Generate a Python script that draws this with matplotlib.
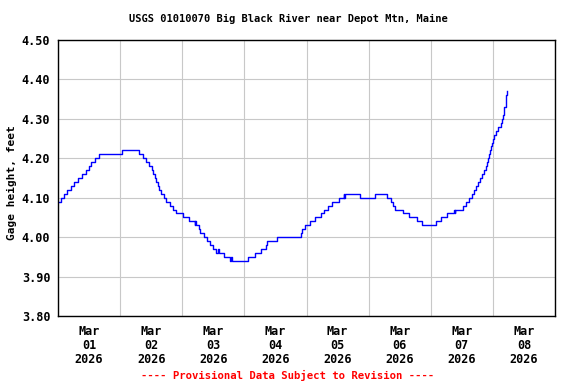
import pandas as pd
import matplotlib
matplotlib.use("Agg")
import matplotlib.pyplot as plt

# gage readings: hours after 2026-03-01 00:00 when the value changed, and the new value (ft)
hours = [0.0, 1.16, 2.44, 3.37, 4.92, 6.31, 7.86, 9.41, 10.72, 11.88, 12.89, 14.44,
         15.87, 24.89, 31.47, 33.02, 34.06, 35.23, 36.27, 36.89, 37.43, 37.94, 38.44,
         39.10, 39.87, 40.76, 41.81, 43.08, 44.40, 45.68, 48.12, 50.71, 52.84, 53.03,
         53.23, 54.31, 54.97, 56.25, 57.56, 58.84, 59.73, 61.16, 61.74, 62.05, 64.26,
         66.58, 66.97, 67.24, 73.28, 76.26, 78.47, 80.40, 80.90, 84.50, 93.79, 94.34,
         95.61, 97.16, 99.21, 101.42, 102.70, 104.40, 105.95, 108.50, 110.44, 110.59,
         110.83, 116.63, 122.44, 127.24, 128.52, 129.29, 130.26, 133.35, 135.48, 138.85,
         140.63, 145.94, 148.14, 150.19, 153.02, 153.21, 153.41, 156.51, 157.55, 158.83,
         159.87, 160.65, 161.42, 162.19, 162.97, 163.74, 164.52, 165.29, 165.87, 166.26,
         166.65, 167.03, 167.42, 167.81, 168.20, 168.58, 169.16, 170.13, 171.10, 171.37,
         172.07, 172.26, 172.45, 172.92, 173.03, 173.15, 173.27, 173.5]
gage = [4.09, 4.10, 4.11, 4.12, 4.13, 4.14, 4.15, 4.16, 4.17, 4.18, 4.19, 4.20,
        4.21, 4.22, 4.21, 4.20, 4.19, 4.18, 4.17, 4.16, 4.15, 4.14, 4.13,
        4.12, 4.11, 4.10, 4.09, 4.08, 4.07, 4.06, 4.05, 4.04, 4.03, 4.04,
        4.03, 4.02, 4.01, 4.00, 3.99, 3.98, 3.97, 3.96, 3.97, 3.96, 3.95,
        3.94, 3.95, 3.94, 3.95, 3.96, 3.97, 3.98, 3.99, 4.00, 4.01, 4.02,
        4.03, 4.04, 4.05, 4.06, 4.07, 4.08, 4.09, 4.10, 4.11, 4.10,
        4.11, 4.10, 4.11, 4.10, 4.09, 4.08, 4.07, 4.06, 4.05, 4.04,
        4.03, 4.04, 4.05, 4.06, 4.07, 4.06, 4.07, 4.08, 4.09, 4.10,
        4.11, 4.12, 4.13, 4.14, 4.15, 4.16, 4.17, 4.18, 4.19, 4.20,
        4.21, 4.22, 4.23, 4.24, 4.25, 4.26, 4.27, 4.28, 4.29, 4.30,
        4.31, 4.32, 4.33, 4.34, 4.35, 4.36, 4.37, 4.37]

y_ticks = [3.80, 3.90, 4.00, 4.10, 4.20, 4.30, 4.40, 4.50]
start = pd.Timestamp("2026-03-01")
days = pd.date_range(start, periods=9, freq="D")

times = start + pd.to_timedelta(hours, unit="h")

plt.rcParams["font.family"] = "DejaVu Sans Mono"
plt.rcParams["font.weight"] = "bold"
plt.rcParams["font.size"] = 7.5

fig = plt.figure(figsize=(5.76, 3.84), dpi=100)
ax = fig.add_axes([58 / 576, 1 - 316 / 384, 497 / 576, 276 / 384])

ax.step(times, gage, where="post", color="#0000ff", linewidth=1.0)

ax.set_xlim(days[0], days[-1])
ax.set_ylim(3.80, 4.50)
ax.set_yticks(y_ticks)
ax.set_yticklabels([f"{v:.2f}" for v in y_ticks], fontsize=8.5)

# gridlines at midnight, labels under each day at noon
ax.set_xticks(days)
ax.set_xticklabels([])
noons = days[:-1] + pd.Timedelta(hours=12)
ax.set_xticks(noons, minor=True)
ax.set_xticklabels([d.strftime("%b\n%d\n%Y") for d in noons], minor=True, fontsize=8.5)
for lbl in ax.get_xticklabels(minor=True):
    lbl.set_linespacing(1.08)

ax.grid(True, which="major", color="#c8c8c8", linewidth=0.8)
ax.set_axisbelow(True)
ax.tick_params(axis="both", which="both", length=0)
ax.tick_params(axis="y", pad=5.5)
ax.tick_params(axis="x", which="minor", pad=6.5)
for s in ax.spines.values():
    s.set_linewidth(1.0)
    s.set_color("black")

fig.text(0.5, 1 - 19 / 384, "USGS 01010070 Big Black River near Depot Mtn, Maine",
         ha="center", va="center")
fig.text(12 / 576, 1 - 183 / 384, "Gage height, feet", rotation=90,
         ha="center", va="center", fontsize=8)
fig.text(0.5, 1 - 375 / 384, "---- Provisional Data Subject to Revision ----",
         ha="center", va="center", color="#ff0000", fontsize=7.7)

fig.savefig("out.png", dpi=100)
